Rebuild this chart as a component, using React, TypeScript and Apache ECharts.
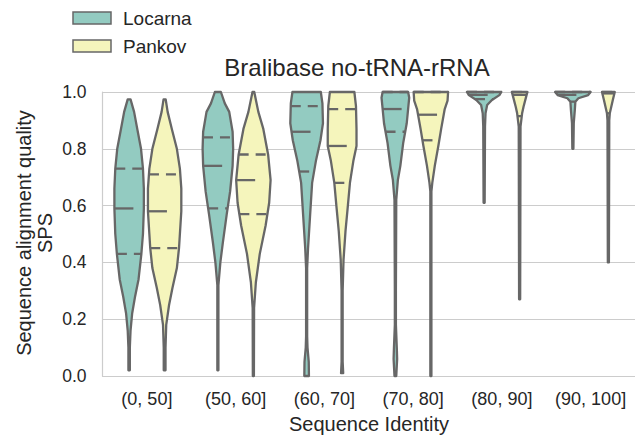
import React, { useEffect, useRef } from "react";
import * as echarts from "echarts";

// Identity bins on the x axis
const categories = ["(0, 50]", "(50, 60]", "(60, 70]", "(70, 80]", "(80, 90]", "(90, 100]"];
const hueNames = ["Locarna", "Pankov"];

// Violin outlines per bin: [SPS value, relative density width], top to bottom
const locarnaShapes: number[][][] = [
  [[0.974, 0.08], [0.93, 0.28], [0.866, 0.47], [0.8, 0.67], [0.73, 0.78], [0.66, 0.83], [0.59, 0.83], [0.5, 0.78], [0.43, 0.69], [0.34, 0.53], [0.278, 0.33], [0.22, 0.17], [0.16, 0.08], [0.1, 0.04], [0.02, 0.04]],
  [[1.0, 0.17], [0.96, 0.39], [0.93, 0.64], [0.86, 0.83], [0.8, 0.86], [0.74, 0.83], [0.65, 0.69], [0.57, 0.5], [0.47, 0.28], [0.4, 0.14], [0.32, 0.03], [0.02, 0.03]],
  [[1.0, 0.8], [0.96, 0.89], [0.89, 0.92], [0.83, 0.78], [0.76, 0.53], [0.68, 0.31], [0.56, 0.19], [0.45, 0.08], [0.38, 0.03], [0.14, 0.03], [0.1, 0.05], [0.05, 0.12], [0.0, 0.13]],
  [[1.0, 0.72], [0.98, 0.78], [0.89, 0.64], [0.82, 0.44], [0.74, 0.28], [0.69, 0.14], [0.62, 0.05], [0.3, 0.03], [0.18, 0.03], [0.1, 0.08], [0.06, 0.1], [0.0, 0.05]],
  [[1.0, 0.97], [0.989, 0.86], [0.972, 0.44], [0.954, 0.17], [0.925, 0.08], [0.88, 0.05], [0.61, 0.03]],
  [[1.0, 1.0], [0.989, 0.86], [0.978, 0.31], [0.966, 0.14], [0.937, 0.11], [0.89, 0.05], [0.8, 0.03]],
];

const pankovShapes: number[][][] = [
  [[0.974, 0.06], [0.93, 0.17], [0.866, 0.42], [0.8, 0.69], [0.73, 0.86], [0.66, 0.94], [0.58, 0.94], [0.5, 0.86], [0.45, 0.81], [0.38, 0.69], [0.31, 0.44], [0.25, 0.25], [0.18, 0.09], [0.1, 0.05], [0.02, 0.05]],
  [[1.0, 0.05], [0.93, 0.28], [0.87, 0.56], [0.78, 0.83], [0.69, 0.97], [0.61, 0.89], [0.53, 0.69], [0.43, 0.36], [0.33, 0.14], [0.24, 0.04], [0.0, 0.03]],
  [[1.0, 0.69], [0.95, 0.78], [0.87, 0.81], [0.81, 0.81], [0.76, 0.64], [0.68, 0.44], [0.59, 0.31], [0.51, 0.19], [0.41, 0.08], [0.3, 0.03], [0.05, 0.03], [0.01, 0.06]],
  [[1.0, 0.97], [0.97, 0.94], [0.94, 0.78], [0.87, 0.58], [0.81, 0.42], [0.74, 0.22], [0.68, 0.08], [0.65, 0.03], [0.0, 0.03]],
  [[1.0, 0.44], [0.989, 0.39], [0.948, 0.22], [0.925, 0.14], [0.878, 0.05], [0.27, 0.03]],
  [[1.0, 0.36], [0.972, 0.25], [0.925, 0.08], [0.9, 0.05], [0.4, 0.03]],
];

// Quartiles per bin: [Q1, median, Q3]
const locarnaQuartiles = [
  [0.43, 0.59, 0.73],
  [0.59, 0.74, 0.84],
  [0.72, 0.86, 0.95],
  [0.86, 0.94, 1.0],
  [0.975, 0.99, 1.0],
  [0.966, 0.99, 1.0],
];
const pankovQuartiles = [
  [0.45, 0.58, 0.71],
  [0.57, 0.69, 0.78],
  [0.68, 0.81, 0.94],
  [0.83, 0.92, 1.0],
  [0.915, 0.99, 1.0],
  [0.925, 0.995, 1.0],
];

const yTicks = [0, 0.2, 0.4, 0.6, 0.8, 1.0];

const FONT = "'Liberation Sans', Arial, sans-serif";
const TEXT = "#262626";
const GRID = "#cccccc";
const EDGE = "#676767";
const COLORS = ["#93cbc1", "#f5f5bc"];
const LW = 2.3;
const VIOLIN_WIDTH = 0.4; // share of a category band per violin

function widthAt(shape: number[][], v: number): number {
  for (let k = 0; k < shape.length - 1; k++) {
    const [v0, w0] = shape[k];
    const [v1, w1] = shape[k + 1];
    if (v <= v0 && v >= v1) {
      const t = v0 === v1 ? 0 : (v0 - v) / (v0 - v1);
      return w0 + (w1 - w0) * t;
    }
  }
  return shape[0][1];
}

function makeRender(shapes: number[][][], offset: number, color: string) {
  return (params: any, api: any) => {
    const i = api.value(0);
    const q = [api.value(1), api.value(2), api.value(3)];
    const band = api.size([1, 0])[0];
    const cx = api.coord([i, 0])[0] + offset * band;
    const scale = (VIOLIN_WIDTH / 2) * band;
    const shape = shapes[i];
    const left = shape.map(([v, w]) => [cx - w * scale, api.coord([i, v])[1]]);
    const right = shape.map(([v, w]) => [cx + w * scale, api.coord([i, v])[1]]).reverse();
    const children: any[] = [
      {
        type: "polygon",
        shape: { points: left.concat(right) },
        style: { fill: color, stroke: EDGE, lineWidth: LW, lineJoin: "round" },
      },
    ];
    q.forEach((val, k) => {
      const hw = widthAt(shape, val) * scale;
      const y = api.coord([i, val])[1];
      children.push({
        type: "line",
        shape: { x1: cx - hw, y1: y, x2: cx + hw, y2: y },
        style: {
          stroke: EDGE,
          lineWidth: LW,
          lineDash: k === 1 ? [19, 15] : [10, 7],
          lineCap: "butt",
        },
      });
    });
    return { type: "group", children };
  };
}

export default function App() {
  const ref = useRef<HTMLDivElement>(null);

  useEffect(() => {
    if (!ref.current) return;
    const chart = echarts.init(ref.current, undefined, { renderer: "svg" });
    const seriesData = (quartiles: number[][]) =>
      categories.map((_, i) => [i, quartiles[i][0], quartiles[i][1], quartiles[i][2]]);

    chart.setOption({
      animation: false,
      backgroundColor: "#ffffff",
      grid: { left: 102.5, top: 92, width: 536, height: 284, containLabel: false },
      xAxis: {
        type: "category",
        data: categories,
        boundaryGap: true,
        axisLine: { show: true, lineStyle: { color: GRID, width: 1.2 } },
        axisTick: { show: false },
        splitLine: { show: false },
        axisLabel: {
          color: TEXT,
          fontSize: 18,
          fontFamily: FONT,
          margin: 14,
          interval: 0,
          hideOverlap: false,
        },
      },
      yAxis: {
        type: "value",
        min: yTicks[0],
        max: yTicks[yTicks.length - 1],
        interval: 0.2,
        axisLine: { show: true, lineStyle: { color: GRID, width: 1.2 } },
        axisTick: { show: false },
        splitLine: { show: true, lineStyle: { color: GRID, width: 1.2 } },
        axisLabel: {
          color: TEXT,
          fontSize: 17.5,
          fontFamily: FONT,
          margin: 16,
          formatter: (v: number) => v.toFixed(1),
        },
      },
      series: [
        {
          name: hueNames[0],
          type: "custom",
          coordinateSystem: "cartesian2d",
          clip: false,
          encode: { x: 0, y: 2 },
          data: seriesData(locarnaQuartiles),
          renderItem: makeRender(locarnaShapes, -0.2, COLORS[0]),
        },
        {
          name: hueNames[1],
          type: "custom",
          coordinateSystem: "cartesian2d",
          clip: false,
          encode: { x: 0, y: 2 },
          data: seriesData(pankovQuartiles),
          renderItem: makeRender(pankovShapes, 0.2, COLORS[1]),
        },
      ],
      graphic: [
        {
          type: "text",
          x: 357,
          y: 67,
          style: {
            text: "Bralibase no-tRNA-rRNA",
            font: `24px ${FONT}`,
            fill: TEXT,
            textAlign: "center",
            textVerticalAlign: "middle",
          },
        },
        {
          type: "text",
          x: 369,
          y: 424,
          style: {
            text: "Sequence Identity",
            font: `20px ${FONT}`,
            fill: TEXT,
            textAlign: "center",
            textVerticalAlign: "middle",
          },
        },
        {
          type: "text",
          x: 34.5,
          y: 233,
          rotation: Math.PI / 2,
          style: {
            text: "Sequence alignment quality\nSPS",
            font: `20px ${FONT}`,
            lineHeight: 21,
            fill: TEXT,
            textAlign: "center",
            textVerticalAlign: "middle",
          },
        },
        ...hueNames.flatMap((name, k) => [
          {
            type: "rect",
            shape: { x: 73, y: 12 + k * 28, width: 38, height: 12 },
            style: { fill: COLORS[k], stroke: EDGE, lineWidth: 1.5 },
          },
          {
            type: "text",
            x: 123,
            y: 18.5 + k * 28,
            style: {
              text: name,
              font: `19px ${FONT}`,
              fill: TEXT,
              textAlign: "left",
              textVerticalAlign: "middle",
            },
          },
        ]),
      ],
    });
    return () => chart.dispose();
  }, []);

  return (
    <div
      ref={ref}
      style={{ position: "fixed", left: 0, top: 0, width: 635, height: 436, background: "#fff" }}
    />
  );
}
